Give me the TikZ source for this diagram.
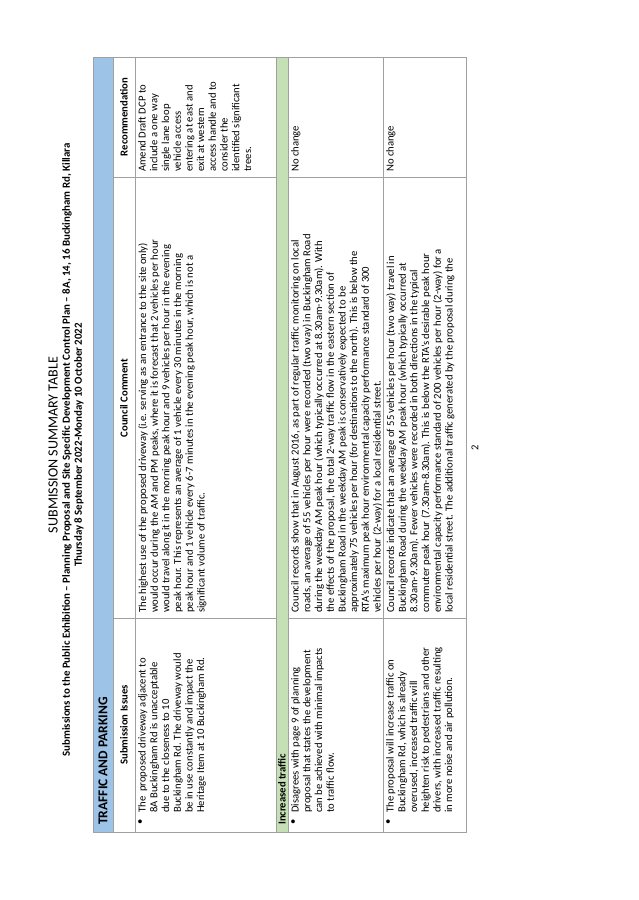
\documentclass[tikz,border=0pt]{standalone}
\usepackage{fontspec}
\setmainfont{Carlito}
\usetikzlibrary{positioning}
\definecolor{bandblue}{HTML}{9DC3E6}
\definecolor{bandgreen}{HTML}{C5E0B4}
\definecolor{gridgrey}{HTML}{A0A0A0}
\tikzset{
  cell/.style={anchor=north west, inner sep=0pt, align=left, font=\fontsize{9.1}{10}\selectfont},
  head/.style={inner sep=0pt, font=\fontsize{9.1}{10}\selectfont\bfseries},
  grid/.style={draw=gridgrey, line width=0.6pt},
}
\begin{document}
\begin{tikzpicture}[x=0.03cm,y=0.03cm]
\useasboundingbox (0,0) rectangle (638,-900);
\begin{scope}[shift={(0,-900)}, rotate=90, transform shape]
        % title
        \node[font=\fontsize{12}{12}\selectfont](T1) at (455,-53) {SUBMISSION SUMMARY TABLE};
        \node[font=\fontsize{9.3}{10}\selectfont\bfseries](T2) at (450,-67) {Submissions to the Public Exhibition -- Planning Proposal and Site Specific Development Control Plan -- 8A, 14, 16 Buckingham Rd, Killara};
        \node[font=\fontsize{9.3}{10}\selectfont\bfseries](T3) at (455,-79) {Thursday 8 September 2022-Monday 10 October 2022};
        % bands
        \fill[bandblue] (68,-93) rectangle (843,-113);
        \fill[bandgreen] (68,-276) rectangle (843,-288);
        % grid
        \draw[grid] (68,-93) rectangle (843,-466);
        \foreach \m in {113,135,276,288,383} \draw[grid] (68,-\m) -- (843,-\m);
        \foreach \l in {282,723} {
            \draw[grid] (\l,-113) -- (\l,-276);
            \draw[grid] (\l,-288) -- (\l,-466);
        }
        % headings
        \node[head, anchor=west, font=\fontsize{11.5}{12}\selectfont\bfseries](TP) at (75,-103) {TRAFFIC AND PARKING};
        \node[head](HS) at (175,-124) {Submission Issues};
        \node[head](HC) at (502,-124) {Council Comment};
        \node[head](HR) at (783,-124) {Recommendation};
        \node[head, anchor=west](IT) at (75,-282) {Increased traffic};
        % row 1
        \node[cell](B1) at (75,-138) {•};
        \node[cell](S1) at (87,-138) {The~ proposed driveway adjacent to\\8A Buckingham Rd is unacceptable\\due to the closeness to 10\\Buckingham Rd. The driveway would\\be in use constantly and impact the\\Heritage Item at 10 Buckingham Rd.};
        \node[cell](C1) at (287,-138) {The highest use of the proposed driveway (i.e. serving as an entrance to the site only)\\would occur during the AM and PM peaks, where it is forecast that 2 vehicles per hour\\would travel along it in the morning peak hour and 9 vehicles per hour in the evening\\peak hour. This represents an average of 1 vehicle every 30 minutes in the morning\\peak hour and 1 vehicle every 6-7 minutes in the evening peak hour, which is not a\\significant volume of traffic.};
        \node[cell](R1) at (728,-138) {Amend Draft DCP to\\include a one way\\single lane loop\\vehicle access\\entering at east and\\exit at western\\access handle and to\\consider the\\identified significant\\trees.};
        % row 2
        \node[cell](B2) at (75,-291) {•};
        \node[cell](S2) at (87,-291) {Disagrees with page 9 of planning\\proposal that states the development\\can be achieved with minimal impacts\\to traffic flow.};
        \node[cell](C2) at (287,-291) {Council records show that in August 2016, as part of regular traffic monitoring on local\\roads, an average of 55 vehicles per hour were recorded (two way) in Buckingham Road\\during the weekday AM peak hour (which typically occurred at 8.30am-9.30am). With\\the effects of the proposal, the total 2-way traffic flow in the eastern section of\\Buckingham Road in the weekday AM peak is conservatively expected to be\\approximately 75 vehicles per hour (for destinations to the north). This is below the\\RTA's maximum peak hour environmental capacity performance standard of 300\\vehicles per hour (2-way) for a local residential street.};
        \node[cell](R2) at (728,-291) {No change};
        % row 3
        \node[cell](B3) at (75,-386) {•};
        \node[cell](S3) at (87,-386) {The proposal will increase traffic on\\Buckingham Rd, which is already\\overused, increased traffic will\\heighten risk to pedestrians and other\\drivers, with increased traffic resulting\\in more noise and air pollution.};
        \node[cell](C3) at (287,-386) {Council records indicate that an average of 55 vehicles per hour (two way) travel in\\Buckingham Road during the weekday AM peak hour (which typically occurred at\\8.30am-9.30am). Fewer vehicles were recorded in both directions in the typical\\commuter peak hour (7.30am-8.30am). This is below the RTA's desirable peak hour\\environmental capacity performance standard of 200 vehicles per hour (2-way) for a\\local residential street. The additional traffic generated by the proposal during the};
        \node[cell](R3) at (728,-386) {No change};
        % page number
        \node[font=\fontsize{9}{10}\selectfont](PN) at (452,-475) {2};
\end{scope}
\end{tikzpicture}
\end{document}
